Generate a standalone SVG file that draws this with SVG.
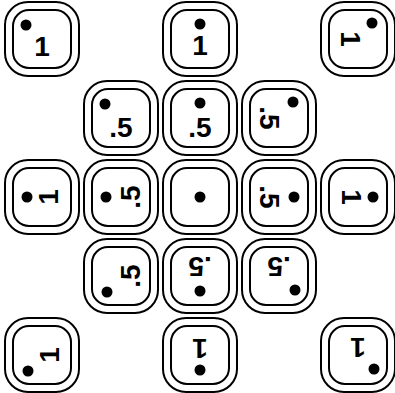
<svg xmlns="http://www.w3.org/2000/svg" xmlns:xlink="http://www.w3.org/1999/xlink" width="395" height="393" viewBox="0 0 395 393">
<style>
.o{fill:#fff;stroke:#000;stroke-width:2}
.i{fill:none;stroke:#000;stroke-width:2}
.d{fill:#000}
.t{font-family:"Liberation Sans",Arial,sans-serif;font-size:28px;font-weight:bold;fill:#000;text-anchor:middle}
</style>
<defs>
<g id="frame">
<rect class="o" x="-37" y="-37" width="74" height="74" rx="23"/>
<rect class="i" x="-29" y="-29" width="58" height="58" rx="16"/>
</g>
</defs>
<rect width="395" height="393" fill="#fff"/>
<g id="nodes">
<g id="n-r0c0" transform="translate(42,39)"><use xlink:href="#frame"/><g><circle class="d" cx="-16" cy="-14" r="5.5"/><text class="t" x="0" y="17">1</text></g></g>
<g id="n-r0c2" transform="translate(200,39)"><use xlink:href="#frame"/><g><circle class="d" cx="0" cy="-15" r="5.5"/><text class="t" x="0" y="16">1</text></g></g>
<g id="n-r0c4" transform="translate(358,39)"><use xlink:href="#frame"/><g transform="rotate(90)"><circle class="d" cx="-16" cy="-14" r="5.5"/><text class="t" x="0" y="17">1</text></g></g>

<g id="n-r1c1" transform="translate(121,118)"><use xlink:href="#frame"/><g><circle class="d" cx="-16" cy="-14" r="5.5"/><text class="t" x="0" y="19">.5</text></g></g>
<g id="n-r1c2" transform="translate(200,118)"><use xlink:href="#frame"/><g><circle class="d" cx="0" cy="-15" r="5.5"/><text class="t" x="0" y="19">.5</text></g></g>
<g id="n-r1c3" transform="translate(279,118)"><use xlink:href="#frame"/><g transform="rotate(90)"><circle class="d" cx="-16" cy="-14" r="5.5"/><text class="t" x="0" y="19">.5</text></g></g>

<g id="n-r2c0" transform="translate(42,197)"><use xlink:href="#frame"/><g transform="rotate(-90)"><circle class="d" cx="0" cy="-15" r="5.5"/><text class="t" x="0" y="16">1</text></g></g>
<g id="n-r2c1" transform="translate(121,197)"><use xlink:href="#frame"/><g transform="rotate(-90)"><circle class="d" cx="0" cy="-15" r="5.5"/><text class="t" x="0" y="19">.5</text></g></g>
<g id="n-r2c2" transform="translate(200,197)"><use xlink:href="#frame"/><circle class="d" cx="0" cy="0" r="5.5"/></g>
<g id="n-r2c3" transform="translate(279,197)"><use xlink:href="#frame"/><g transform="rotate(90)"><circle class="d" cx="0" cy="-15" r="5.5"/><text class="t" x="0" y="19">.5</text></g></g>
<g id="n-r2c4" transform="translate(358,197)"><use xlink:href="#frame"/><g transform="rotate(90)"><circle class="d" cx="0" cy="-15" r="5.5"/><text class="t" x="0" y="16">1</text></g></g>

<g id="n-r3c1" transform="translate(121,276)"><use xlink:href="#frame"/><g transform="rotate(-90)"><circle class="d" cx="-16" cy="-14" r="5.5"/><text class="t" x="0" y="19">.5</text></g></g>
<g id="n-r3c2" transform="translate(200,276)"><use xlink:href="#frame"/><g transform="rotate(180)"><circle class="d" cx="0" cy="-15" r="5.5"/><text class="t" x="0" y="19">.5</text></g></g>
<g id="n-r3c3" transform="translate(279,276)"><use xlink:href="#frame"/><g transform="rotate(180)"><circle class="d" cx="-16" cy="-14" r="5.5"/><text class="t" x="0" y="19">.5</text></g></g>

<g id="n-r4c0" transform="translate(42,355)"><use xlink:href="#frame"/><g transform="rotate(-90)"><circle class="d" cx="-16" cy="-14" r="5.5"/><text class="t" x="0" y="17">1</text></g></g>
<g id="n-r4c2" transform="translate(200,355)"><use xlink:href="#frame"/><g transform="rotate(180)"><circle class="d" cx="0" cy="-15" r="5.5"/><text class="t" x="0" y="16">1</text></g></g>
<g id="n-r4c4" transform="translate(358,355)"><use xlink:href="#frame"/><g transform="rotate(180)"><circle class="d" cx="-16" cy="-14" r="5.5"/><text class="t" x="0" y="17">1</text></g></g>
</g>
</svg>
